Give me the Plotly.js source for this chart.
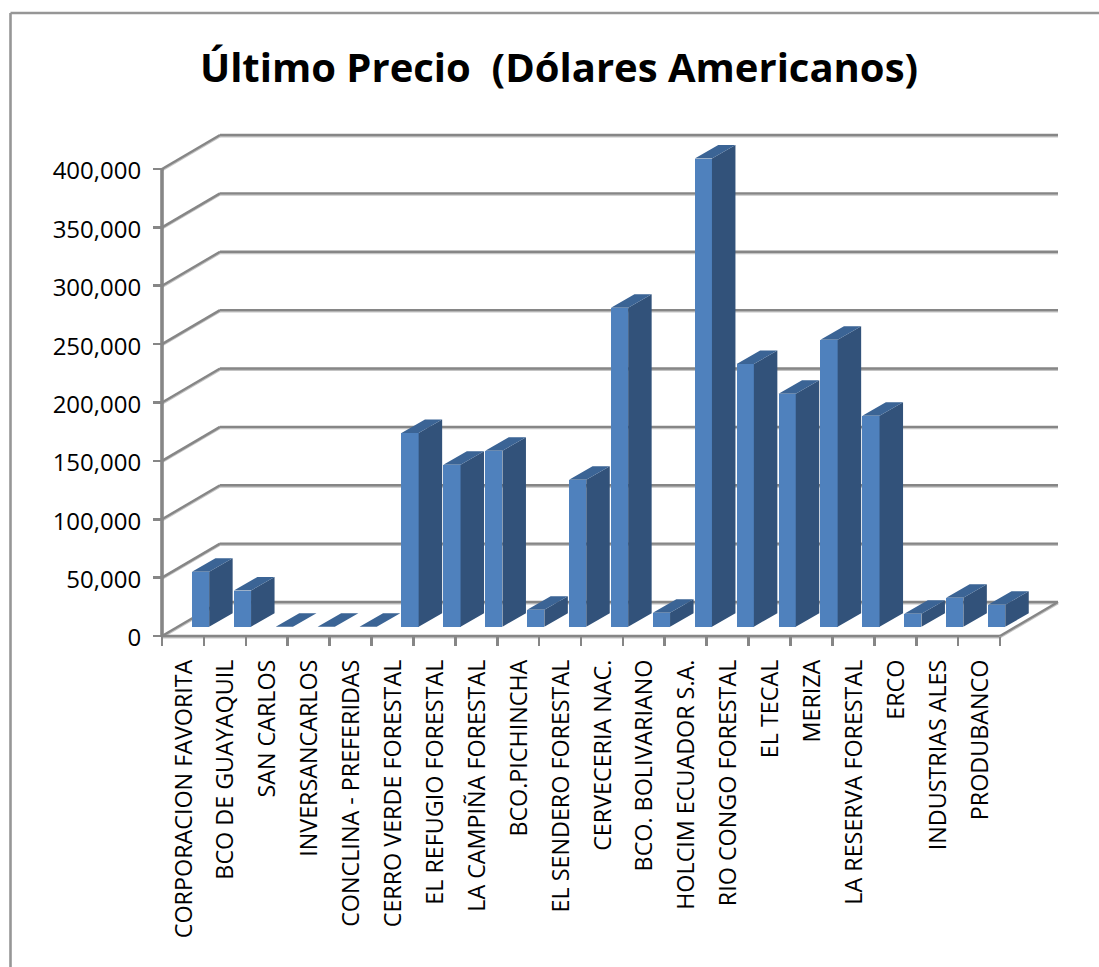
<!DOCTYPE html>
<html>
<head>
<meta charset="utf-8">
<script src="https://cdn.plot.ly/plotly-3.0.1.min.js"></script>
<style>html,body{margin:0;padding:0;background:#fff}#chart{width:1099px;height:967px}</style>
</head>
<body>
<div id="chart"></div>
<script>
// Closing prices per issuer, in US dollars
const categories = [
  "CORPORACION FAVORITA","BCO DE GUAYAQUIL","SAN CARLOS","INVERSANCARLOS",
  "CONCLINA - PREFERIDAS","CERRO VERDE FORESTAL","EL REFUGIO FORESTAL","LA CAMPIÑA FORESTAL",
  "BCO.PICHINCHA","EL SENDERO FORESTAL","CERVECERIA NAC.","BCO. BOLIVARIANO",
  "HOLCIM ECUADOR S.A.","RIO CONGO FORESTAL","EL TECAL","MERIZA",
  "LA RESERVA FORESTAL","ERCO","INDUSTRIAS ALES","PRODUBANCO"
];
const prices = [47000,31000,0,0,0,166000,138800,150700,14600,125900,273200,12000,401000,225000,199500,245800,180700,11000,24800,18800];
const valueTicks = [0,50000,100000,150000,200000,250000,300000,350000,400000];
const tickLabels = ["0","50,000","100,000","150,000","200,000","250,000","300,000","350,000","400,000"];

// Oblique projection of the chart box, expressed in pixels of the drawing
const W = 1099, H = 967;
const originX = 162, originY = 636;          // front-left floor corner
const slotPx = 41.9;                         // width of one category
const unitPx = 467 / 400000;                 // pixels per dollar
const wallDx = 58, wallDy = 34;              // depth of the whole box
const barDx = 23.5, barDy = 13.5;            // depth of one column
const barGapDy = 9.3;                        // column base above the front floor edge
const barShift = 17.6, barWidth = 17.2;      // column offset and width

const plotL = 150, plotR = 1072, plotT = 125, plotB = 652;
const xOf = px => (px - originX) / slotPx - 0.5;
const yOf = px => (originY - px) / unitPx;
const N = categories.length;
const xRange = [xOf(plotL), xOf(plotR)];
const yRange = [yOf(plotB), yOf(plotT)];

const dxU = px => px / slotPx;
const dyU = px => px / unitPx;
const base = dyU(barGapDy);
const centers = categories.map((_, i) => i + dxU(barShift));
const halfW = dxU(barWidth) / 2;

// Column faces that a plain bar cannot draw: sides and tops as filled polygons
const sideX = [], sideY = [], topX = [], topY = [];
prices.forEach((v, i) => {
  const r = centers[i] + halfW, l = centers[i] - halfW, t = base + v;
  sideX.push(r, r + dxU(barDx), r + dxU(barDx), r, r, null);
  sideY.push(base, base + dyU(barDy), t + dyU(barDy), t, base, null);
  topX.push(l, r, r + dxU(barDx), l + dxU(barDx), l, null);
  topY.push(t, t, t + dyU(barDy), t + dyU(barDy), t, null);
});

// Box lines: a darker stroke over a faint lower highlight
const GREY = "#868686", SOFT = "#c4c4c4";
const shapes = [];
function boxLine(x0, y0, x1, y1, width) {
  const common = {type: "line", xref: "x", yref: "y", layer: "below", x0, x1};
  shapes.push(Object.assign({}, common, {y0: y0 - dyU(1.2), y1: y1 - dyU(1.2), line: {color: SOFT, width: width}}));
  shapes.push(Object.assign({}, common, {y0, y1, line: {color: GREY, width: width}}));
}
const front0 = -0.5, frontEnd = N - 0.5;
const wallX = front0 + dxU(wallDx), wallEnd = frontEnd + dxU(wallDx);
valueTicks.forEach(v => {
  boxLine(front0, v, wallX, v + dyU(wallDy), 2.4);
  boxLine(wallX, v + dyU(wallDy), wallEnd, v + dyU(wallDy), 2.4);
});
boxLine(front0, 0, frontEnd, 0, 2.4);
boxLine(frontEnd, 0, wallEnd, dyU(wallDy), 2.4);
shapes.push({type: "line", xref: "x", yref: "y", layer: "below", x0: front0, x1: front0, y0: 0, y1: 400000, line: {color: GREY, width: 3.6}});

// Outer frame of the chart area runs off the page on the right and at the bottom
const pX = px => (px - plotL) / (plotR - plotL);
const pY = px => (plotB - px) / (plotB - plotT);
[[10.5, 13, W, 13], [10.5, 13, 10.5, H]].forEach(([a, b, c, d]) => {
  shapes.push({type: "line", xref: "paper", yref: "paper", layer: "above",
    x0: pX(a), y0: pY(b), x1: pX(c), y1: pY(d), line: {color: "#969696", width: 2.6}});
});

const traces = [
  {type: "bar", x: centers, y: prices, base: base, width: dxU(barWidth),
   marker: {color: "#4f81bd", line: {width: 0}}, hoverinfo: "skip", showlegend: false},
  {type: "scatter", mode: "lines", x: sideX, y: sideY, fill: "toself", fillcolor: "#32527a",
   line: {width: 0, color: "#32527a"}, hoverinfo: "skip", showlegend: false},
  {type: "scatter", mode: "lines", x: topX, y: topY, fill: "toself", fillcolor: "#3b6495",
   line: {width: 0, color: "#3b6495"}, hoverinfo: "skip", showlegend: false}
];

const layout = {
  width: W, height: H,
  paper_bgcolor: "#fff", plot_bgcolor: "rgba(0,0,0,0)",
  margin: {l: plotL, r: W - plotR, t: plotT, b: H - plotB, pad: 0},
  showlegend: false, bargap: 0,
  title: {text: "Último Precio  (Dólares Americanos)", x: 559 / W, xanchor: "center", y: 1 - 68 / H, yanchor: "middle",
          font: {family: "Open Sans", weight: 700, size: 40, color: "#000"}},
  xaxis: {
    type: "linear", range: xRange, anchor: "free", position: pY(originY),
    showgrid: false, zeroline: false, showline: false,
    tickmode: "array", tickvals: categories.map((_, i) => i), ticktext: categories,
    tickangle: -90, ticks: "", ticklabelstandoff: 18,
    tickfont: {family: "Open Sans", size: 23.3, color: "#000"},
    minor: {tickmode: "array", tickvals: Array.from({length: N + 1}, (_, i) => i - 0.5),
            ticks: "outside", ticklen: 9, tickwidth: 2.6, tickcolor: GREY, showgrid: false}
  },
  yaxis: {
    type: "linear", range: yRange, anchor: "free", position: pX(originX),
    showgrid: false, zeroline: false, showline: false,
    tickmode: "array", tickvals: valueTicks, ticktext: tickLabels,
    ticks: "outside", ticklen: 9, tickwidth: 2.6, tickcolor: GREY, ticklabelstandoff: 7,
    tickfont: {family: "Open Sans", size: 24, color: "#000"}
  },
  shapes
};

Plotly.newPlot("chart", traces, layout, {displayModeBar: false, staticPlot: true}).then(() => {
  // Nudge tick labels: value labels slightly down, rotated category labels slightly right
  document.querySelectorAll("#chart .ytick text").forEach(t => t.setAttribute("dy", "2"));
  document.querySelectorAll("#chart .xtick text").forEach(t => t.setAttribute("dy", "1"));
});
</script>
</body>
</html>
